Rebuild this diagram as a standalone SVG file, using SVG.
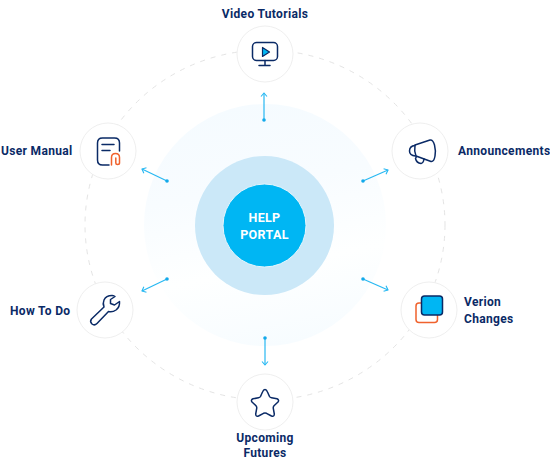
<svg xmlns="http://www.w3.org/2000/svg" width="550" height="458" viewBox="0 0 550 458">
<style>
text{font-family:"Roboto","Liberation Sans",sans-serif;font-weight:700;font-size:12px;fill:#0a2a66;letter-spacing:.33px}
.ring{fill:#fff;stroke:#efefef;stroke-width:1}
.ic{fill:none;stroke:#0a2a66;stroke-width:1.500;stroke-linecap:round;stroke-linejoin:round}
.or{fill:none;stroke:#f0622d;stroke-width:1.500;stroke-linecap:round;stroke-linejoin:round}
.ar{stroke:#27b8f2;stroke-width:1.200;fill:none}
.dot{fill:#13a9ea}
</style>
<defs>
<marker id="head" viewBox="0 0 8 8" refX="7" refY="4" markerWidth="8" markerHeight="8" orient="auto" markerUnits="userSpaceOnUse"><path d="M3.500 1L7 4L3.500 7" fill="none" stroke="#27b8f2" stroke-width="1.100"/></marker>
<linearGradient id="pale" x1=".35" y1="0" x2=".55" y2="1"><stop offset="0" stop-color="#f5fbff"/><stop offset=".35" stop-color="#f8fcff"/><stop offset=".68" stop-color="#feffff"/><stop offset="1" stop-color="#f7fcff"/></linearGradient>
</defs>
<ellipse cx="265" cy="225" rx="180" ry="175" fill="none" stroke="#e4e4e4" stroke-width="1" stroke-dasharray="5 6"/>
<circle cx="265" cy="225" r="121" fill="url(#pale)"/>
<g id="center">
<circle cx="264.500" cy="225.500" r="69.500" fill="#cbe8f8"/>
<circle cx="264.500" cy="225.500" r="41.500" fill="#00b6f3" stroke="#e6f6fd" stroke-width="1"/>
<text x="264.500" y="222" text-anchor="middle" style="fill:#fff;font-size:12.500px">HELP</text>
<text x="264.500" y="239" text-anchor="middle" style="fill:#fff;font-size:12.500px">PORTAL</text>
</g>
<g id="connectors">
<path class="ar" d="M264 120V93" marker-end="url(#head)"/><circle class="dot" cx="264" cy="120" r="1.800"/>
<path class="ar" d="M167 181L142 169" marker-end="url(#head)"/><circle class="dot" cx="167" cy="181" r="1.800"/>
<path class="ar" d="M363 181L388 170" marker-end="url(#head)"/><circle class="dot" cx="363" cy="181" r="1.800"/>
<path class="ar" d="M167 279L142 291" marker-end="url(#head)"/><circle class="dot" cx="167" cy="279" r="1.800"/>
<path class="ar" d="M363 279L388 290" marker-end="url(#head)"/><circle class="dot" cx="363" cy="279" r="1.800"/>
<path class="ar" d="M265 338V365" marker-end="url(#head)"/><circle class="dot" cx="265" cy="338" r="1.800"/>
</g>
<g id="video-tutorials">
<text x="265" y="18" text-anchor="middle">Video Tutorials</text>
<circle class="ring" cx="265" cy="54" r="28"/>
<rect class="ic" x="252.500" y="42.500" width="25" height="18" rx="4"/>
<path class="ic" d="M265 60.500V65M259 65.500H270"/>
<path d="M262.500 47.500V56.500L269.500 52Z" fill="#00b6f3" stroke="#0a2a66" stroke-width="1.200" stroke-linejoin="round"/>
</g>
<g id="user-manual">
<text x="1" y="155">User Manual</text>
<circle class="ring" cx="108" cy="151" r="28"/>
<path class="ic" d="M109 165H102.500Q97.500 165 97.500 160V143Q97.500 138 102.500 138H114.500Q119.500 138 119.500 143V151"/>
<path class="ic" d="M102 144.500H114M102 150.500H110"/>
<path class="or" d="M111.500 165V157.500Q111.500 153.500 115.500 153.500Q119.500 153.500 119.500 157.500V163Q119.500 164.500 117.500 164.500Q115.800 164.500 115.800 163V158"/>
</g>
<g id="announcements">
<circle class="ring" cx="420" cy="151" r="28"/>
<path class="ic" d="M415 145L430 140Q433 139.500 434.500 145Q436 151 435 156Q434 162 431 161.500L416 156Q414 151 415 145Z"/>
<path class="ic" d="M415 145.500Q409.500 146 409.500 151Q409.500 155.500 415.500 156"/>
<path class="ic" d="M416.500 156.500L415.500 158.500Q416.500 163 421 163.500Q423.500 163 424 159"/>
<text x="458" y="155">Announcements</text>
</g>
<g id="how-to-do">
<text x="10" y="315">How To Do</text>
<circle class="ring" cx="105" cy="310" r="28"/>
<path class="ic" d="M112 295.500Q106 295.500 104 300Q102.500 303.500 104 307L91.500 319Q89.500 321.500 92 324Q94.500 326 97 323.500L108.500 311.500Q112.500 312.500 116 310Q120 307 119.500 301.500L114.500 305L110.500 303.500L110.500 299.500L115 296.500Q113.500 295.500 112 295.500Z"/>
</g>
<g id="verion-changes">
<circle class="ring" cx="429" cy="310" r="28"/>
<rect class="or" x="416" y="303" width="21.500" height="19.500" rx="3"/>
<rect x="421.500" y="296" width="21" height="19" rx="3" fill="#00b6f3" stroke="#0a2a66" stroke-width="1.500"/>
<text x="464" y="306">Verion</text>
<text x="464" y="322.500">Changes</text>
</g>
<g id="upcoming-futures">
<circle class="ring" cx="265" cy="402" r="28"/>
<path class="ic" d="M265 389.500Q266.500 389.500 267.500 392L269.500 396.500Q270 397.500 271.500 397.800L277 398.800Q279.500 399.800 278 402L274 405.800Q273 407 273.300 408.300L274.300 414Q274.300 417 271.500 416L266.500 413.300Q265 412.700 263.500 413.300L258.500 416Q255.700 417 255.700 414L256.700 408.300Q257 407 256 405.800L252 402Q250.500 399.800 253 398.800L258.500 397.800Q260 397.500 260.500 396.500L262.500 392Q263.500 389.500 265 389.500Z"/>
<text x="265" y="441.500" text-anchor="middle">Upcoming</text>
<text x="265" y="456.500" text-anchor="middle">Futures</text>
</g>
</svg>
